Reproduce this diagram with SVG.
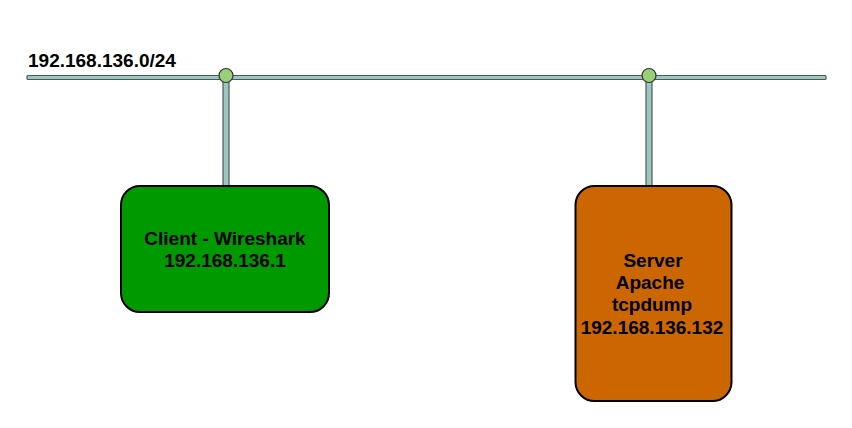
<svg xmlns="http://www.w3.org/2000/svg" width="852" height="428" viewBox="0 0 852 428">
<style>
.pipe{fill:#9AC7BF;stroke:#4D5957;stroke-width:1.2}
.dot{fill:#97D077;stroke:#333;stroke-width:1.2}
.box{stroke:#000;stroke-width:2}
.t{font-family:"Liberation Sans",Arial,sans-serif;font-weight:bold;font-size:19px;fill:#000}
</style>
<rect width="852" height="428" fill="#fff"/>
<g id="connectors">
<rect class="pipe" x="27" y="75.5" width="799" height="4" rx="1"/>
<rect class="pipe" x="223" y="80" width="6" height="107"/>
<rect class="pipe" x="646" y="80" width="6" height="107"/>
</g>
<g id="network-label">
<text class="t" x="28" y="66.5">192.168.136.0/24</text>
</g>
<g id="port-client">
<circle class="dot" cx="226" cy="75.5" r="7"/>
</g>
<g id="port-server">
<circle class="dot" cx="649" cy="75.5" r="7"/>
</g>
<g id="client">
<rect class="box" x="121" y="186" width="208" height="126" rx="19" fill="#009900"/>
<text class="t" text-anchor="middle" x="225" y="244.5">Client - Wireshark</text>
<text class="t" text-anchor="middle" x="225" y="266.5">192.168.136.1</text>
</g>
<g id="server">
<rect class="box" x="575.5" y="186" width="156" height="215" rx="19" fill="#CC6600"/>
<text class="t" text-anchor="middle" x="653" y="266.5">Server</text>
<text class="t" text-anchor="middle" x="650" y="288.5">Apache</text>
<text class="t" text-anchor="middle" x="652" y="311">tcpdump</text>
<text class="t" text-anchor="middle" x="652" y="333.5">192.168.136.132</text>
</g>
</svg>
